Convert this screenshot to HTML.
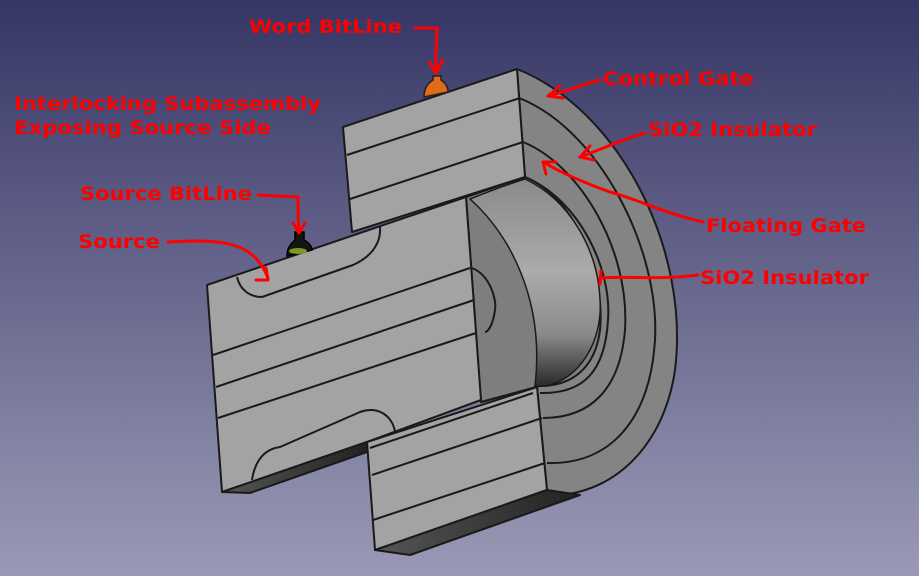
<!DOCTYPE html>
<html><head><meta charset="utf-8"><style>
html,body{margin:0;padding:0;width:919px;height:576px;overflow:hidden}
svg{display:block}
text{font-family:"DejaVu Sans","Liberation Sans",sans-serif;font-weight:bold;font-size:19px;fill:#ff0000}
</style></head><body>
<svg width="919" height="576" viewBox="0 0 919 576" xmlns="http://www.w3.org/2000/svg">
<defs>
<linearGradient id="bg" x1="0" y1="0" x2="0" y2="1">
<stop offset="0" stop-color="#363666"/><stop offset="1" stop-color="#9a9ab6"/>
</linearGradient>
<linearGradient id="cyl" x1="0" y1="0" x2="0" y2="1">
<stop offset="0" stop-color="#8a8a8a"/><stop offset="0.45" stop-color="#ababab"/><stop offset="0.75" stop-color="#8a8a8a"/><stop offset="1" stop-color="#2a2a2a"/>
</linearGradient>
<linearGradient id="sh" x1="0" y1="0" x2="1" y2="0">
<stop offset="0" stop-color="#555"/><stop offset="1" stop-color="#222"/>
</linearGradient>
</defs>
<rect width="919" height="576" fill="url(#bg)"/>
<g stroke="#1a1a1a" stroke-width="2" stroke-linejoin="round">
<path d="M517,69 C620,110 690,250 675,370 C665,440 620,490 560,495 L547,490 L537,387 L481,402 L466,197 L525,177 Z" fill="#848484"/>
<path d="M466,197 L525,177 C580,200 605,280 600,330 C595,370 570,386 540,386 L481,402 Z" fill="#7e7e7e"/>
<path d="M470,199 C510,235 545,300 535,386 L545,386 C580,380 603,340 600,300 C598,250 570,200 525,179 C505,185 485,193 470,199 Z" fill="url(#cyl)" stroke-width="1.5"/>
<g fill="none">
<path d="M519,98 C600,130 660,250 655,340 C650,420 610,465 547,463"/>
<path d="M523,142 C580,165 630,250 625,330 C620,390 590,418 543,418"/>
<path d="M525,177 C580,200 612,270 608,320 C605,370 585,394 540,393"/>
<path d="M472,268 C490,275 497,300 495,310 C493,325 488,332 485,332"/>
</g>
<polygon points="343,127 517,69 525,177 352,232" fill="#a3a3a3"/>
<line x1="347" y1="155" x2="520" y2="98"/>
<line x1="350" y1="199" x2="523" y2="142"/>
<polygon points="207,285 466,197 481,400 367,442 222,492" fill="#a3a3a3"/>
<polygon points="222,492 250,493 367,452 367,442" fill="url(#sh)"/>
<line x1="213" y1="355" x2="470" y2="268"/>
<line x1="216" y1="387" x2="474" y2="300"/>
<line x1="218" y1="418" x2="476" y2="333"/>
<path d="M237,277 C240,290 250,297 262,297 L353,265 C375,255 381,240 380,227" fill="none"/>
<path d="M252,480 C255,460 265,449 280,447 L360,412 C380,405 393,418 395,432" fill="none"/>
<polygon points="367,442 537,387 547,490 375,550" fill="#a3a3a3"/>
<polygon points="375,550 410,555 580,495 547,490" fill="url(#sh)"/>
<line x1="370" y1="448" x2="533" y2="393"/>
<line x1="372" y1="475" x2="542" y2="418"/>
<line x1="373" y1="520" x2="545" y2="463"/>
</g>
<path d="M424,97 C424,86 430,82 433,80 L433,76 L441,76 L441,80 C444,82 448,86 448,92 Z" fill="#e06a1a" stroke="#222" stroke-width="1.5"/>
<path d="M287,256 C287,246 293,242 295,240 L295,232 L304,232 L304,240 C308,242 312,246 312,250 Z" fill="#151515" stroke="#000" stroke-width="1.5"/>
<ellipse cx="298" cy="251" rx="9" ry="3" fill="#7a9a20"/>
<g stroke="#ff0000" stroke-width="3" fill="none" stroke-linecap="round" stroke-linejoin="round">
<path d="M415,28 L437,28 C437,40 435,55 436,72"/><path d="M429,62 L436,73 L443,60"/>
<path d="M600,80 C580,85 565,92 548,96"/><path d="M560,86 L548,96 L563,98"/>
<path d="M645,133 C620,140 600,150 580,157"/><path d="M590,146 L580,157 L594,160"/>
<path d="M703,222 C660,212 640,200 610,192 C585,183 560,172 545,163"/><path d="M546,174 L543,162 L556,162"/>
<path d="M698,275 C660,280 630,276 600,278"/><path d="M601,271 L600,284"/>
<path d="M258,195 L298,197 C298,210 298,220 299,232"/><path d="M293,223 L299,233 L305,223"/>
<path d="M168,242 C230,238 255,245 268,278"/><path d="M256,280 L268,280 L266,268"/>
</g>
<text x="249" y="33" textLength="153" lengthAdjust="spacingAndGlyphs">Word BitLine</text>
<text x="603" y="85" textLength="151" lengthAdjust="spacingAndGlyphs">Control Gate</text>
<text x="14" y="110" textLength="307" lengthAdjust="spacingAndGlyphs">Interlocking Subassembly</text>
<text x="14" y="134" textLength="257" lengthAdjust="spacingAndGlyphs">Exposing Source Side</text>
<text x="648" y="136" textLength="169" lengthAdjust="spacingAndGlyphs">SiO2 Insulator</text>
<text x="80" y="200" textLength="172" lengthAdjust="spacingAndGlyphs">Source BitLine</text>
<text x="706" y="232" textLength="160" lengthAdjust="spacingAndGlyphs">Floating Gate</text>
<text x="78" y="248" textLength="82" lengthAdjust="spacingAndGlyphs">Source</text>
<text x="700" y="284" textLength="169" lengthAdjust="spacingAndGlyphs">SiO2 Insulator</text>
</svg>
</body></html>
